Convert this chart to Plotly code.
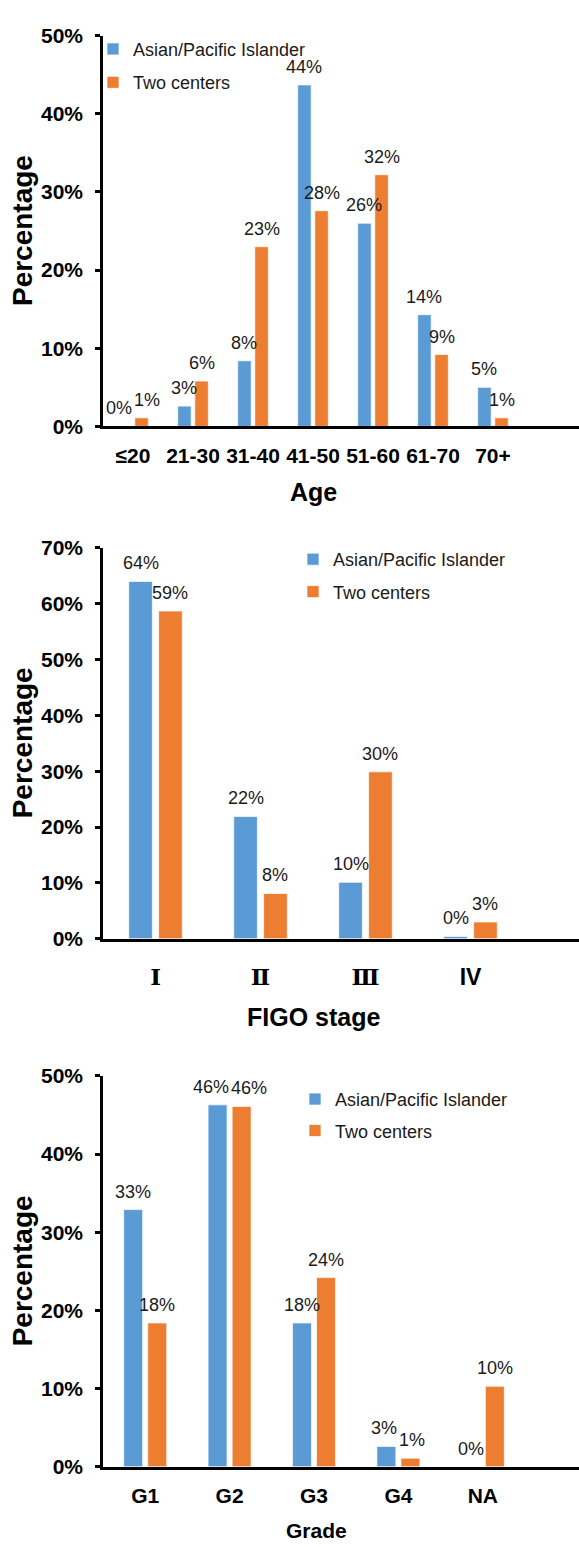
import plotly.graph_objects as go

# ---------------- data ----------------
series_names = ["Asian/Pacific Islander", "Two centers"]

age_groups = ["≤20", "21-30", "31-40", "41-50", "51-60", "61-70", "70+"]
age_asian = [0.0, 2.6, 8.4, 43.7, 26.0, 14.3, 5.0]
age_centers = [1.1, 5.8, 23.0, 27.6, 32.2, 9.2, 1.1]

stages = ["Ⅰ", "Ⅱ", "Ⅲ", "IV"]
stage_asian = [64.0, 21.9, 10.1, 0.4]
stage_centers = [58.7, 8.1, 29.9, 3.0]

grades = ["G1", "G2", "G3", "G4", "NA"]
grade_asian = [32.9, 46.3, 18.4, 2.6, 0.0]
grade_centers = [18.4, 46.1, 24.2, 1.1, 10.3]

y_title = "Percentage"
x_titles = ["Age", "FIGO stage", "Grade"]
y_max = [50, 70, 50]

# ---------------- style / layout ----------------
W, H = 579, 1547
FONT = "Arial, 'Liberation Sans', sans-serif"
COLORS = ["#5B9BD5", "#ED7D31"]
BARGAP, GROUPGAP = 0.43, 0.21

# pixel geometry of each panel: left, top, bottom, category spacing
panels = [
    dict(cats=age_groups, vals=[age_asian, age_centers], left=103, top=24, bottom=420.7, step=60,
         legend=(133, 37, 7), xtitle=(313, 487, 25), standoff=9, tsize=21),
    dict(cats=stages, vals=[stage_asian, stage_centers], left=103, top=544, bottom=940.7, step=105,
         legend=(333, 555, 6), xtitle=(313, 1020, 25), standoff=16, tsize=23),
    dict(cats=grades, vals=[grade_asian, grade_centers], left=103, top=1080, bottom=1476.7, step=84.4,
         legend=(335, 1103, 5), xtitle=(316, 1541, 21), standoff=8, tsize=21),
]

fig = go.Figure()
annotations = []
layout = dict(
    width=W, height=H, margin=dict(l=0, r=0, t=0, b=0),
    paper_bgcolor="white", plot_bgcolor="white",
    barmode="group", bargap=BARGAP, bargroupgap=GROUPGAP,
    font=dict(family=FONT, color="#000000"),
)

def label_width(txt, size=18):
    w = 0
    for ch in txt:
        w += 0.889 if ch == "%" else 0.556
    return w * size

for k, p in enumerate(panels):
    sfx = "" if k == 0 else str(k + 1)
    xa, ya = "x" + sfx, "y" + sfx
    leg = "legend" + sfx
    x_end = (W - p["left"]) / p["step"] - 0.5
    for s in range(2):
        fig.add_trace(go.Bar(
            x=p["cats"], y=p["vals"][s], name=series_names[s],
            marker=dict(color=COLORS[s], line=dict(color="rgba(255,255,255,0.7)", width=1)),
            xaxis=xa, yaxis=ya, legend=leg, legendgroup=f"{k}-{s}",
            hoverinfo="skip",
        ))
    # axes
    layout["xaxis" + sfx] = dict(
        domain=[p["left"] / W, 1], anchor=ya, type="category",
        range=[-0.5, x_end], showline=True, linecolor="black", linewidth=2.5,
        ticks="", showgrid=False, zeroline=False,
        tickfont=dict(family=FONT, size=p["tsize"], color="black", weight="bold"),
        ticklabelstandoff=p["standoff"],
    )
    if k == 1:
        layout["xaxis" + sfx]["tickmode"] = "array"
        layout["xaxis" + sfx]["tickvals"] = p["cats"]
        layout["xaxis" + sfx]["ticktext"] = [
            c if c == "IV" else f"<span style='font-family:DejaVu Serif, serif'>{c}</span>"
            for c in p["cats"]
        ]
    layout["yaxis" + sfx] = dict(
        domain=[1 - p["bottom"] / H, 1 - p["top"] / H], anchor=xa,
        range=[0, y_max[k]], dtick=10, ticksuffix="%",
        showline=True, linecolor="black", linewidth=2.5,
        ticks="outside", ticklen=5, tickwidth=2.5, tickcolor="black",
        showgrid=False, zeroline=False,
        tickfont=dict(family=FONT, size=21, color="black", weight="bold"),
        ticklabelstandoff=8,
    )
    # legend
    lx, ly, gap = p["legend"]
    layout[leg] = dict(
        x=(lx - 40) / W, y=1 - (ly - 18) / H, xanchor="left", yanchor="top",
        xref="paper", yref="paper",
        font=dict(family=FONT, size=18, color="#1a1a1a"),
        bgcolor="rgba(0,0,0,0)", tracegroupgap=gap, traceorder="grouped",
    )
    # data labels
    off = (1 - BARGAP) / 4
    px_per_unit = p["step"]
    px_per_val = (p["bottom"] - p["top"]) / y_max[k]
    for i, c in enumerate(p["cats"]):
        vb, vo = p["vals"][0][i], p["vals"][1][i]
        tb, to = f"{int(vb + 0.5)}%", f"{int(vo + 0.5)}%"
        shift = 0
        if abs(vb - vo) * px_per_val < 20:
            overlap = (label_width(tb) + label_width(to)) / 2 + 2 - 2 * off * px_per_unit
            if overlap > 0:
                shift = overlap / 2
        for v, t, sign in [(vb, tb, -1), (vo, to, 1)]:
            annotations.append(dict(
                x=i + sign * off, y=v, xref=xa, yref=ya, text=t, showarrow=False,
                xanchor="center", yanchor="bottom", yshift=6, xshift=sign * shift,
                font=dict(family=FONT, size=18, color="#1a1a1a"),
            ))
    # axis titles
    annotations.append(dict(
        x=22 / W, y=1 - (p["top"] + p["bottom"]) / 2 / H, xref="paper", yref="paper",
        text=y_title, textangle=-90, showarrow=False, xanchor="center", yanchor="middle",
        font=dict(family=FONT, size=28, color="black", weight="bold"),
    ))
    tx, ty, ts = p["xtitle"]
    annotations.append(dict(
        x=tx / W, y=1 - ty / H, xref="paper", yref="paper", text=x_titles[k],
        showarrow=False, xanchor="center", yanchor="middle",
        font=dict(family=FONT, size=ts, color="black", weight="bold"),
    ))

layout["annotations"] = annotations
fig.update_layout(**layout)
fig.write_html("out.html", config={"displayModeBar": False},
               post_script="document.body.style.margin='0px';")
